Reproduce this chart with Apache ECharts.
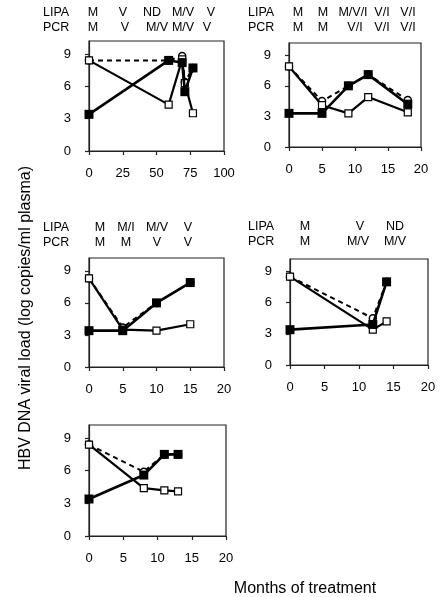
<!DOCTYPE html>
<html>
<head>
<meta charset="utf-8">
<script src="https://cdn.jsdelivr.net/npm/echarts@6/dist/echarts.min.js"></script>
<style>
html,body{margin:0;padding:0;background:#fff;}
#chart{width:443px;height:597px;}
</style>
</head>
<body>
<div id="chart"></div>
<script>
// ---- Data ----
const p1Mutant = [[0,3.4],[59,8.4],[69,8.2],[71,5.5],[77,7.7]];
const p1Wild   = [[0,8.4],[59,4.3],[69,8.5],[71,6.3],[77,3.5]];
const p1Total  = [[0,8.4],[59,8.4],[69,8.8],[71,6.4],[77,7.7]];

const p2Mutant = [[0,3.3],[5,3.3],[9,6.0],[12,7.1],[18,4.2]];
const p2Wild   = [[0,7.9],[5,4.1],[9,3.3],[12,4.9],[18,3.4]];
const p2Total  = [[0,7.9],[5,4.5],[9,6.0],[12,7.1],[18,4.6]];

const p3Mutant = [[0,3.4],[5,3.4],[10,6.0],[15,7.9]];
const p3Wild   = [[0,8.3],[5,3.5],[10,3.4],[15,4.0]];
const p3Total  = [[0,8.3],[5,3.7],[10,6.0],[15,7.9]];

const p4Mutant = [[0,3.4],[12,3.9],[14,8.0]];
const p4Wild   = [[0,8.5],[12,3.4],[14,4.2]];
const p4Total  = [[0,8.5],[12,4.5],[14,8.0]];

const p5Mutant = [[0,3.4],[8,5.6],[11,7.5],[13,7.5]];
const p5Wild   = [[0,8.4],[8,4.4],[11,4.2],[13,4.1]];
const p5Total  = [[0,8.4],[8,5.9],[11,7.5],[13,7.5]];

const p1Lipa = ['M','V','ND','M/V','V'];
const p1Pcr  = ['M','V','M/V','M/V','V'];
const p2Lipa = ['M','M','M/V/I','V/I','V/I'];
const p2Pcr  = ['M','M','V/I','V/I','V/I'];
const p3Lipa = ['M','M/I','M/V','V'];
const p3Pcr  = ['M','M','V','V'];
const p4Lipa = ['M','V','ND'];
const p4Pcr  = ['M','M/V','M/V'];

const yTicks = [0,3,6,9];
const xMaxes = [100,20,20,20,20];
const xIntervals = [25,5,5,5,5];

const xTitle = 'Months of treatment';
const yTitle = 'HBV DNA viral load (log copies/ml plasma)';

// ---- Layout ----
const FONT = 'Liberation Sans, Arial, sans-serif';
const grids = [
  {left:89, top:41, width:135, height:110},
  {left:289, top:43, width:132, height:104},
  {left:89, top:258, width:135, height:109},
  {left:290, top:259, width:138, height:106},
  {left:89, top:425, width:137, height:111}
];
const panels = [
  [p1Mutant,p1Wild,p1Total],
  [p2Mutant,p2Wild,p2Total],
  [p3Mutant,p3Wild,p3Total],
  [p4Mutant,p4Wild,p4Total],
  [p5Mutant,p5Wild,p5Total]
];
const headers = [
  {hx:43, ly:13, py:28, lipa:p1Lipa, pcr:p1Pcr, lx:[93,123,152,183,211], px:[93,125,157,183,207]},
  {hx:248, ly:13, py:28, lipa:p2Lipa, pcr:p2Pcr, lx:[298,323,353,382,408], px:[298,323,355,382,408]},
  {hx:43, ly:228, py:243, lipa:p3Lipa, pcr:p3Pcr, lx:[100,126,157,188], px:[100,126,157,188]},
  {hx:248, ly:227, py:242, lipa:p4Lipa, pcr:p4Pcr, lx:[305,360,395], px:[305,358,395]}
];

const gridOpts = grids.map(g => Object.assign({
  show:true, borderColor:'#222', borderWidth:1.2, backgroundColor:'transparent',
  containLabel:false, outerBoundsMode:'none'
}, g));

const axisCommon = {
  axisLine:{show:true, onZero:false, lineStyle:{color:'#222', width:1.2}},
  axisTick:{show:true, inside:false, length:4, lineStyle:{color:'#222', width:1.2}},
  splitLine:{show:false},
  axisLabel:{color:'#000', fontFamily:FONT, fontSize:13}
};

const xAxes = grids.map((g,i) => ({
  type:'value', gridIndex:i, min:0, max:xMaxes[i], interval:xIntervals[i],
  axisLine:axisCommon.axisLine, axisTick:axisCommon.axisTick, splitLine:axisCommon.splitLine,
  axisLabel:Object.assign({}, axisCommon.axisLabel, {margin:16})
}));
const yAxes = grids.map((g,i) => ({
  type:'value', gridIndex:i, min:0, max:10.2,
  axisLine:axisCommon.axisLine, splitLine:axisCommon.splitLine,
  axisTick:Object.assign({}, axisCommon.axisTick, {customValues:yTicks}),
  axisLabel:Object.assign({}, axisCommon.axisLabel, {margin:18, customValues:yTicks})
}));

const series = [];
panels.forEach((p,i) => {
  series.push({
    type:'line', xAxisIndex:i, yAxisIndex:i, data:p[2], z:2,
    symbol:'circle', symbolSize:7, showAllSymbol:true,
    lineStyle:{color:'#000', width:2, type:[5,4]},
    itemStyle:{color:'#fff', borderColor:'#000', borderWidth:1.5}
  });
  series.push({
    type:'line', xAxisIndex:i, yAxisIndex:i, data:p[1], z:3,
    symbol:'rect', symbolSize:7, showAllSymbol:true,
    lineStyle:{color:'#000', width:2.2},
    itemStyle:{color:'#fff', borderColor:'#000', borderWidth:1.2}
  });
  series.push({
    type:'line', xAxisIndex:i, yAxisIndex:i, data:p[0], z:4,
    symbol:'rect', symbolSize:9, showAllSymbol:true,
    lineStyle:{color:'#000', width:2.6},
    itemStyle:{color:'#000', borderColor:'#000', borderWidth:0}
  });
});

const graphics = [];
const txt = (x,y,s,align,size) => ({
  type:'text', x:x, y:y, silent:true,
  style:{text:s, fill:'#000', font:(size||12.5)+'px '+FONT, textAlign:align||'center', textVerticalAlign:'middle'}
});
headers.forEach(h => {
  graphics.push(txt(h.hx, h.ly, 'LIPA', 'left'));
  graphics.push(txt(h.hx, h.py, 'PCR', 'left'));
  h.lipa.forEach((s,k) => graphics.push(txt(h.lx[k], h.ly, s)));
  h.pcr.forEach((s,k) => graphics.push(txt(h.px[k], h.py, s)));
});
graphics.push(txt(305, 589, xTitle, 'center', 16));
graphics.push({
  type:'text', x:26, y:318, rotation:Math.PI/2, silent:true,
  style:{text:yTitle, fill:'#000', font:'16px '+FONT, textAlign:'center', textVerticalAlign:'middle'}
});

const chart = echarts.init(document.getElementById('chart'), null, {renderer:'canvas'});
chart.setOption({
  animation:false,
  backgroundColor:'#fff',
  grid:gridOpts,
  xAxis:xAxes,
  yAxis:yAxes,
  series:series,
  graphic:graphics
});
</script>
</body>
</html>
